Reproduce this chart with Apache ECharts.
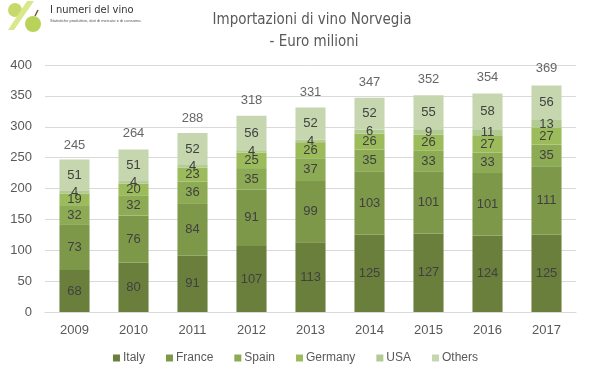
<!DOCTYPE html>
<html><head><meta charset="utf-8">
<script src="https://cdn.jsdelivr.net/npm/echarts@6/dist/echarts.min.js"></script>
<style>html,body{margin:0;padding:0;background:#fff}#c{width:591px;height:378px}</style>
</head><body><div id="c"></div>
<script>
const years = ['2009','2010','2011','2012','2013','2014','2015','2016','2017'];
const italy   = [68, 80, 91, 107, 113, 125, 127, 124, 125];
const france  = [73, 76, 84, 91, 99, 103, 101, 101, 111];
const spain   = [32, 32, 36, 35, 37, 35, 33, 33, 35];
const germany = [19, 20, 23, 25, 26, 26, 26, 27, 27];
const usa     = [4, 4, 4, 4, 4, 6, 9, 11, 13];
const others  = [51, 51, 52, 56, 52, 52, 55, 58, 56];
const totals  = [245, 264, 288, 318, 331, 347, 352, 354, 369];
const yTicks  = [0, 50, 100, 150, 200, 250, 300, 350, 400];

const names = ['Italy','France','Spain','Germany','USA','Others'];
const colors = ['#6b7f3d','#7e984a','#8daa55','#9cbc5c','#b2cb92','#c6d7af'];
const datas = [italy, france, spain, germany, usa, others];
const FONT = 'Liberation Sans, Arial, sans-serif';
const NARROW = '"DejaVu Sans Condensed", "Liberation Sans", sans-serif';

const series = names.map((n, i) => ({
  name: n, type: 'bar', stack: 'a', barWidth: '51%',
  data: datas[i],
  itemStyle: { color: colors[i] },
  label: { show: true, position: 'inside', color: '#404040', fontSize: 13, fontFamily: FONT },
  emphasis: { disabled: true }
}));
series.push({
  name: 'Total', type: 'scatter', data: totals, symbolSize: 0,
  label: { show: true, position: 'top', distance: 9, color: '#404040', fontSize: 13,
           fontFamily: FONT, formatter: p => p.value },
  silent: true
});

const chart = echarts.init(document.getElementById('c'), null, { renderer: 'canvas' });
chart.setOption({
  animation: false,
  backgroundColor: '#fff',
  legend: {
    data: names, bottom: 9, left: 'center', itemWidth: 7, itemHeight: 7, itemGap: 21,
    icon: 'rect',
    textStyle: { fontFamily: FONT, fontSize: 12, color: '#595959', padding: [0,0,0,-2] }
  },
  grid: { left: 45, right: 15, top: 65, bottom: 66 },
  xAxis: {
    type: 'category', data: years,
    axisLine: { lineStyle: { color: '#d9d9d9' } }, axisTick: { show: false },
    axisLabel: { color: '#595959', fontSize: 13, fontFamily: FONT, margin: 12 }
  },
  yAxis: {
    type: 'value', min: yTicks[0], max: yTicks[yTicks.length - 1], interval: 50,
    axisLine: { show: false }, axisTick: { show: false },
    splitLine: { lineStyle: { color: '#d9d9d9' } },
    axisLabel: { color: '#595959', fontSize: 13, fontFamily: FONT, margin: 13 }
  },
  graphic: [
    { type: 'text', x: 312, y: 20, style: { text: 'Importazioni di vino Norvegia', fontFamily: NARROW,
      fontSize: 15, fill: '#595959', align: 'center', verticalAlign: 'middle' } },
    { type: 'text', x: 314, y: 42, style: { text: '- Euro milioni', fontFamily: NARROW,
      fontSize: 15, fill: '#595959', align: 'center', verticalAlign: 'middle' } },
    { type: 'circle', shape: { cx: 15, cy: 10, r: 7 }, style: { fill: '#c5da6a' } },
    { type: 'polygon', shape: { points: [[27,1],[34,1],[14,30],[8,30]] }, style: { fill: '#d9e88a' } },
    { type: 'circle', shape: { cx: 33, cy: 24, r: 8 }, style: { fill: '#b9d35a' } },
    { type: 'line', shape: { x1: 35, y1: 16, x2: 38, y2: 10 }, style: { stroke: '#7a5a2a', lineWidth: 1.5 } },
    { type: 'text', left: 50, top: 5, style: { text: 'I numeri del vino', fontFamily: NARROW,
      fontSize: 11, fill: '#333' } },
    { type: 'text', left: 50, top: 19, style: { text: 'Statistiche produttive, dati di mercato e di consumo.',
      fontFamily: FONT, fontSize: 4, fill: '#555' } }
  ],
  series: series
});
</script></body></html>
